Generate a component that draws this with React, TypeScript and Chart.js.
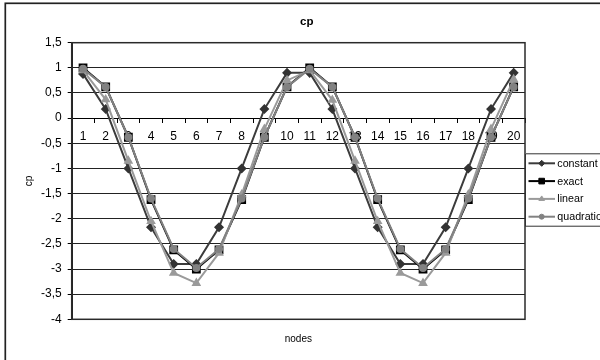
import { useEffect, useRef } from 'react';
import { Chart, registerables } from 'chart.js';

Chart.register(...registerables);

// ---- data ----
const nodes = ['1', '2', '3', '4', '5', '6', '7', '8', '9', '10', '11', '12', '13', '14', '15', '16', '17', '18', '19', '20'];
const constantValues = [0.88, 0.18, -1.0, -2.17, -2.9, -2.9, -2.17, -1.0, 0.18, 0.9, 0.9, 0.18, -1.0, -2.17, -2.9, -2.9, -2.17, -1.0, 0.18, 0.9];
const exactValues = [1.0, 0.62, -0.38, -1.62, -2.62, -3.0, -2.62, -1.62, -0.38, 0.62, 1.0, 0.62, -0.38, -1.62, -2.62, -3.0, -2.62, -1.62, -0.38, 0.62];
const linearValues = [0.95, 0.37, -0.85, -2.05, -3.08, -3.28, -2.68, -1.52, -0.22, 0.75, 0.95, 0.36, -0.85, -2.05, -3.08, -3.28, -2.68, -1.52, -0.22, 0.77];
const quadraticValues = [0.98, 0.62, -0.38, -1.6, -2.6, -2.98, -2.6, -1.6, -0.38, 0.62, 0.98, 0.62, -0.38, -1.6, -2.6, -2.98, -2.6, -1.6, -0.38, 0.62];
const seriesNames = ['constant', 'exact', 'linear', 'quadratic'];
const chartTitle = 'cp';
const yAxisTitle = 'cp';
const xAxisTitle = 'nodes';
const yMin = -4;
const yMax = 1.5;
const yStep = 0.5;

const FONT = "'Liberation Sans', Arial, sans-serif";

function drawMarker(ctx: CanvasRenderingContext2D, style: string, x: number, y: number, r: number, fill: string, stroke: string) {
  ctx.beginPath();
  if (style === 'rect') {
    const s = r * Math.SQRT1_2;
    ctx.rect(x - s, y - s, 2 * s, 2 * s);
  } else if (style === 'rectRot') {
    ctx.moveTo(x - r, y);
    ctx.lineTo(x, y - r);
    ctx.lineTo(x + r, y);
    ctx.lineTo(x, y + r);
    ctx.closePath();
  } else if (style === 'triangle') {
    const h = r * 1.5;
    ctx.moveTo(x, y - h * 0.66);
    ctx.lineTo(x + r * 0.95, y + h * 0.34);
    ctx.lineTo(x - r * 0.95, y + h * 0.34);
    ctx.closePath();
  } else {
    ctx.arc(x, y, r, 0, Math.PI * 2);
  }
  ctx.fillStyle = fill;
  ctx.fill();
  ctx.lineWidth = 1;
  ctx.strokeStyle = stroke;
  ctx.stroke();
}

const framePlugin = {
  id: 'excelFrame',
  beforeDatasetsDraw(chart: any) {
    const { ctx, chartArea } = chart;
    ctx.save();
    ctx.strokeStyle = '#2a2a2a';
    ctx.lineWidth = 1.5;
    ctx.strokeRect(chartArea.left, chartArea.top, chartArea.right - chartArea.left, chartArea.bottom - chartArea.top);
    ctx.restore();
  },
  afterDraw(chart: any) {
    const { ctx } = chart;
    ctx.save();
    // outer chart border
    ctx.strokeStyle = '#222';
    ctx.lineWidth = 1.7;
    ctx.strokeRect(5.3, 3.3, 800, 600);
    // legend
    const lx = chart.chartArea.right;
    const top = 153.3;
    const bottom = 225.7;
    ctx.fillStyle = '#fff';
    ctx.fillRect(lx, top, 200, bottom - top);
    ctx.strokeStyle = '#333';
    ctx.lineWidth = 1;
    ctx.strokeRect(lx + 0.5, top + 0.5, 200, bottom - top);
    ctx.font = `10.7px ${FONT}`;
    ctx.textBaseline = 'middle';
    ctx.textAlign = 'left';
    chart.data.datasets.forEach((ds: any, i: number) => {
      const y = 163.3 + i * 17.8;
      ctx.strokeStyle = ds.borderColor;
      ctx.lineWidth = 2;
      ctx.beginPath();
      ctx.moveTo(lx + 3.5, y);
      ctx.lineTo(lx + 30, y);
      ctx.stroke();
      drawMarker(ctx, ds.pointStyle, lx + 16.7, y, ds.legendRadius, ds.pointBackgroundColor, ds.pointBorderColor);
      ctx.fillStyle = '#000';
      ctx.fillText(ds.label, lx + 32.3, y + 0.5);
    });
    ctx.restore();
  },
};

export default function App() {
  const canvasRef = useRef<HTMLCanvasElement | null>(null);

  useEffect(() => {
    if (!canvasRef.current) return;
    Chart.defaults.font.family = FONT;
    Chart.defaults.color = '#000';

    const chart = new Chart(canvasRef.current, {
      type: 'line',
      data: {
        labels: nodes,
        datasets: [
          {
            label: seriesNames[0],
            data: constantValues,
            borderColor: '#3c3c3c',
            backgroundColor: '#3c3c3c',
            pointBackgroundColor: '#333',
            pointBorderColor: '#333',
            pointStyle: 'rectRot',
            pointRadius: 3.6,
            borderWidth: 2,
            order: 4,
            legendRadius: 3,
          } as any,
          {
            label: seriesNames[1],
            data: exactValues,
            borderColor: '#000',
            backgroundColor: '#000',
            pointBackgroundColor: '#000',
            pointBorderColor: '#000',
            pointStyle: 'rect',
            pointRadius: 4.8,
            borderWidth: 2,
            order: 3,
            legendRadius: 4,
          } as any,
          {
            label: seriesNames[2],
            data: linearValues,
            borderColor: '#9a9a9a',
            backgroundColor: '#9a9a9a',
            pointBackgroundColor: '#9a9a9a',
            pointBorderColor: '#9a9a9a',
            pointStyle: 'triangle',
            pointRadius: 3.6,
            borderWidth: 2,
            order: 2,
            legendRadius: 3,
          } as any,
          {
            label: seriesNames[3],
            data: quadraticValues,
            borderColor: '#828282',
            backgroundColor: '#828282',
            pointBackgroundColor: '#828282',
            pointBorderColor: '#828282',
            pointStyle: 'circle',
            pointRadius: 3,
            borderWidth: 2,
            order: 1,
            legendRadius: 2.5,
          } as any,
        ],
      },
      options: {
        responsive: false,
        animation: false,
        devicePixelRatio: 1,
        layout: { padding: { left: 13.4, right: 0, top: 0, bottom: 0 } },
        plugins: {
          legend: { display: false },
          tooltip: { enabled: false },
          title: {
            display: true,
            text: chartTitle,
            color: '#000',
            font: { size: 11.5, weight: 'bold', family: FONT },
            padding: { top: 15.2, bottom: 13.7 },
          },
        },
        scales: {
          x: {
            type: 'category',
            position: { y: 0 } as any,
            offset: true,
            grid: {
              display: true,
              drawOnChartArea: false,
              drawTicks: true,
              tickLength: 4,
              offset: true,
              color: '#000',
            },
            border: { display: true, color: '#000', width: 1 },
            ticks: {
              color: '#000',
              font: { size: 12, family: FONT },
              padding: 7.5,
              maxRotation: 0,
              autoSkip: false,
            },
          },
          xTitle: {
            type: 'category',
            position: 'bottom',
            offset: true,
            grid: { display: false, drawTicks: false },
            border: { display: false },
            ticks: { display: false },
            title: {
              display: true,
              text: xAxisTitle,
              color: '#000',
              font: { size: 10, family: FONT },
              padding: { top: 13.7, bottom: 15 },
            },
          },
          y: {
            type: 'linear',
            position: 'left',
            min: yMin,
            max: yMax,
            ticks: {
              stepSize: yStep,
              color: '#000',
              font: { size: 12, family: FONT },
              padding: 6,
              callback: (v: any) => String(Math.round(Number(v) * 10) / 10).replace('.', ','),
            },
            grid: {
              color: '#222',
              lineWidth: 1,
              drawTicks: true,
              tickLength: 4,
              tickColor: '#000',
            },
            border: { display: true, color: '#222', width: 2 },
            title: {
              display: true,
              text: yAxisTitle,
              color: '#000',
              font: { size: 10, family: FONT },
              padding: { top: 10, bottom: 0 },
            },
            afterFit: (s: any) => {
              s.width = 58.3;
            },
          },
          yLegendSpace: {
            type: 'linear',
            position: 'right',
            grid: { display: false, drawTicks: false },
            border: { display: false },
            ticks: { display: false },
            afterFit: (s: any) => {
              s.width = 75;
            },
          },
        },
      } as any,
      plugins: [framePlugin],
    });

    return () => chart.destroy();
  }, []);

  return (
    <div style={{ position: 'absolute', left: 0, top: 0, width: 600, height: 360, background: '#fff' }}>
      <canvas ref={canvasRef} width={600} height={360} style={{ display: 'block' }} />
    </div>
  );
}
